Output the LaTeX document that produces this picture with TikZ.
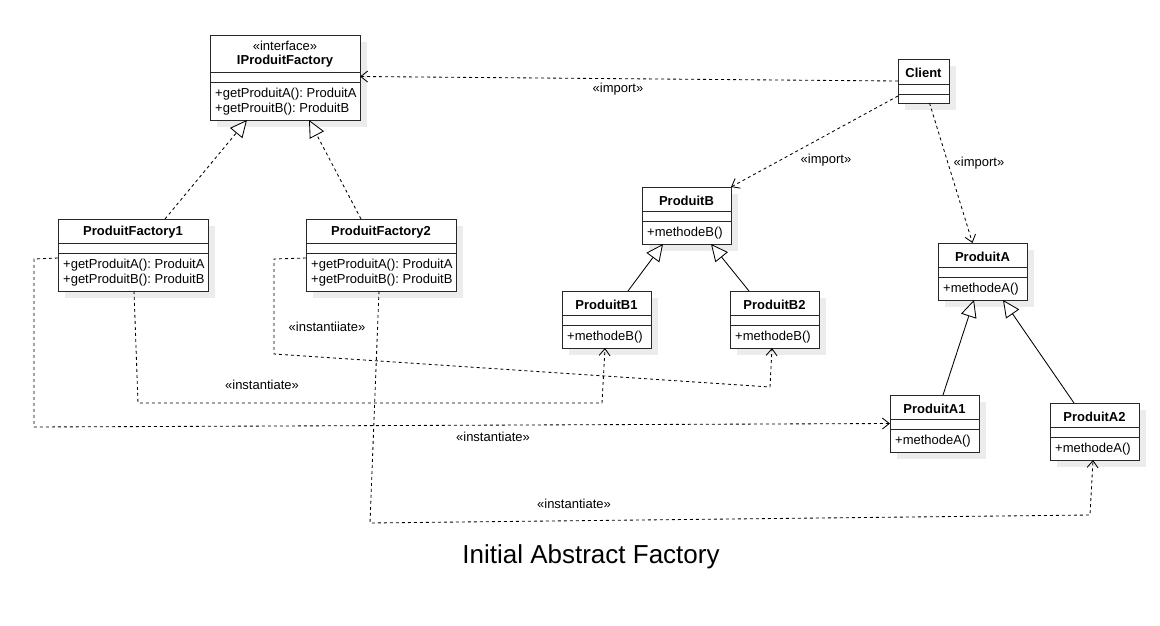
\documentclass[tikz,border=0pt]{standalone}
\usepackage{fontspec}
\setmainfont{Liberation Sans}
\frenchspacing
\usetikzlibrary{arrows.meta,calc}
\definecolor{shadowc}{RGB}{236,236,236}
\definecolor{linec}{RGB}{40,40,40}
\newcommand{\umlbox}[7]{%
  \fill[shadowc] (#2+7,#3+7) rectangle (#4+7,#5+7);
  \node[cls, anchor=north west, minimum width={(#4-#2)*1pt}, minimum height={(#5-#3)*1pt}] (#1) at (#2,#3) {};
  \draw[boxline] (#2,#6) -- (#4,#6);
  \draw[boxline] (#2,#7) -- (#4,#7);
}
\begin{document}
\begin{tikzpicture}[x=1pt,y=-1pt,
  boxline/.style={draw=linec, line width=0.85pt},
  cls/.style={rectangle, draw=linec, fill=white, line width=0.85pt, inner sep=0pt, outer sep=0pt},
  hdr/.style={font=\fontsize{13}{15}\selectfont\bfseries, inner sep=0pt, yshift=-1.5pt},
  stereo/.style={font=\fontsize{13}{15}\selectfont, inner sep=0pt, yshift=-1.5pt},
  meth/.style={font=\fontsize{13}{15}\selectfont, anchor=west, inner sep=0pt, yshift=-1.2pt},
  lbl/.style={font=\fontsize{13}{15}\selectfont, inner sep=0pt, yshift=-1.2pt},
  dep/.style={line width=0.85pt, dash pattern=on 3pt off 3pt, -{Straight Barb[length=7pt,width=11pt]}},
  inhd/.style={line width=0.85pt, dash pattern=on 3pt off 3pt, -{Triangle[open,length=17pt,width=16pt,fill=white]}},
  inh/.style={line width=0.85pt, -{Triangle[open,length=17pt,width=16pt,fill=white]}},
]
\useasboundingbox (0,0) rectangle (1160,626);

% class boxes
\umlbox{ipf}{210}{35}{360}{120}{72}{82}
\umlbox{pf1}{58}{219}{208}{291}{243}{253}
\umlbox{pf2}{306}{219}{456}{291}{243}{253}
\umlbox{client}{898}{59}{949}{103}{84}{94}
\umlbox{pb}{642}{187}{731}{244}{211}{221}
\umlbox{pbone}{562}{291}{651}{348}{315}{325}
\umlbox{pbtwo}{730}{291}{819}{348}{315}{325}
\umlbox{pa}{938}{243}{1027}{300}{267}{277}
\umlbox{paone}{890}{395}{979}{452}{419}{429}
\umlbox{patwo}{1050}{403}{1139}{460}{427}{437}

% texts
\node[stereo] (ipfst) at (285,44.5) {«interface»};
\node[hdr] (ipfn) at (285,60) {IProduitFactory};
\node[meth] (ipfm1) at (215,93) {+getProduitA(): ProduitA};
\node[meth] (ipfm2) at (215,108) {+getProuitB(): ProduitB};

\node[hdr] (pf1n) at (133,231) {ProduitFactory1};
\node[meth] (pf1m1) at (63,264) {+getProduitA(): ProduitA};
\node[meth] (pf1m2) at (63,279) {+getProduitB(): ProduitB};

\node[hdr] (pf2n) at (381,231) {ProduitFactory2};
\node[meth] (pf2m1) at (311,264) {+getProduitA(): ProduitA};
\node[meth] (pf2m2) at (311,279) {+getProduitB(): ProduitB};

\node[hdr] (clientn) at (923.5,71) {Client};

\node[hdr] (pbn) at (686.5,199) {ProduitB};
\node[meth] (pbm) at (647,232) {+methodeB()};
\node[hdr] (pb1n) at (606.5,303) {ProduitB1};
\node[meth] (pb1m) at (567,336) {+methodeB()};
\node[hdr] (pb2n) at (774.5,303) {ProduitB2};
\node[meth] (pb2m) at (735,336) {+methodeB()};

\node[hdr] (pan) at (982.5,255) {ProduitA};
\node[meth] (pam) at (943,288) {+methodeA()};
\node[hdr] (pa1n) at (934.5,407) {ProduitA1};
\node[meth] (pa1m) at (895,440) {+methodeA()};
\node[hdr] (pa2n) at (1094.5,415) {ProduitA2};
\node[meth] (pa2m) at (1055,448) {+methodeA()};

% imports
\draw[dep] (client.west) -- ([yshift=1pt]ipf.east);
\draw[dep] ([yshift=-15pt]client.west) -- (pb.north east);
\draw[dep] ([xshift=6pt]client.south) -- ([xshift=-10pt]pa.north);
\node[lbl] (l1) at (618,88) {«import»};
\node[lbl] (l2) at (826,159) {«import»};
\node[lbl] (l3) at (979,162) {«import»};

% realizations
\draw[inhd] ([xshift=32pt]pf1.north) -- ([xshift=-38pt]ipf.south);
\draw[inhd] ([xshift=-20pt]pf2.north) -- ([xshift=24pt]ipf.south);

% inheritance
\draw[inh] ([xshift=21.5pt]pbone.north) -- ([xshift=-23.5pt]pb.south);
\draw[inh] ([xshift=-25.5pt]pbtwo.north) -- ([xshift=24.5pt]pb.south);
\draw[inh] ([xshift=8.5pt]paone.north) -- ([xshift=-8.5pt]pa.south);
\draw[inh] ([xshift=-20.5pt]patwo.north) -- ([xshift=20.5pt]pa.south);

% instantiate
\draw[dep] ([xshift=1pt]pf1.south) -- (138,403) -- (602,403) -- ([xshift=-1.5pt]pbone.south);
\draw[dep] ([yshift=-3pt]pf1.west) -- (34,259) -- (34,427) -- (paone.west);
\draw[dep] ([yshift=-3pt]pf2.west) -- (274,259) -- (274,354) -- (770,387) -- ([xshift=-2.5pt]pbtwo.south);
\draw[dep] ([xshift=-2pt]pf2.south) -- (370,523) -- (1090,515) -- ([xshift=-1.5pt]patwo.south);
\node[lbl] (l4) at (262,384) {«instantiate»};
\node[lbl] (l5) at (493,436) {«instantiate»};
\node[lbl] (l6) at (327,326) {«instantiiate»};
\node[lbl] (l7) at (574,503) {«instantiate»};

\node[font=\fontsize{26}{30}\selectfont, inner sep=0pt, yshift=-1.5pt] (title) at (591,555) {Initial Abstract Factory};
\end{tikzpicture}
\end{document}
